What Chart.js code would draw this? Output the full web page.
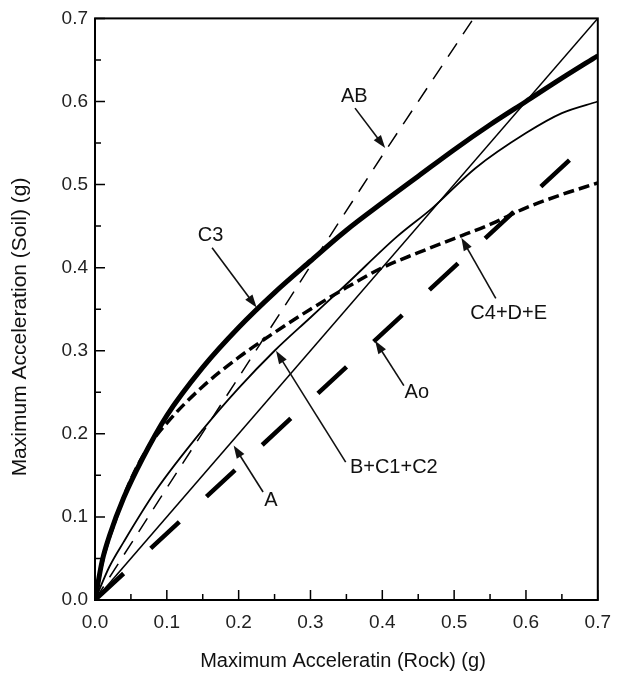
<!DOCTYPE html>
<html>
<head>
<meta charset="utf-8">
<script src="https://cdn.jsdelivr.net/npm/chart.js@4.4.1/dist/chart.umd.min.js"></script>
<style>
  html, body { margin: 0; padding: 0; background: #fff; }
  #wrap { width: 622px; height: 677px; position: relative; }
</style>
</head>
<body>
<div id="wrap"><canvas id="accChart"></canvas></div>
<script>
// values (rock acceleration -> soil acceleration, in g)
const rockA = [0, 0.7];
const soilA = [0, 0.7];

const rockAo = [0, 0.665];
const soilAo = [0, 0.533];

const rockAB = [0, 0.1, 0.2, 0.3, 0.4, 0.527];
const soilAB = [0, 0.135, 0.268, 0.402, 0.535, 0.7];

const rockBC = [0, 0.02, 0.04, 0.085, 0.15, 0.2, 0.25, 0.3, 0.35, 0.42, 0.47, 0.53, 0.6, 0.65, 0.7];
const soilBC = [0, 0.04, 0.07, 0.132, 0.205, 0.255, 0.3, 0.34, 0.38, 0.437, 0.472, 0.52, 0.562, 0.586, 0.6];

const rockC3 = [0, 0.01, 0.02, 0.04, 0.066, 0.1, 0.15, 0.2, 0.25, 0.3, 0.35, 0.4, 0.45, 0.5, 0.55, 0.6, 0.65, 0.7];
const soilC3 = [0, 0.047, 0.077, 0.123, 0.17, 0.222, 0.28, 0.328, 0.37, 0.408, 0.445, 0.478, 0.51, 0.542, 0.572, 0.6, 0.628, 0.655];

const rockC4 = [0, 0.01, 0.03, 0.05, 0.075, 0.1, 0.15, 0.2, 0.25, 0.3, 0.35, 0.4, 0.45, 0.5, 0.55, 0.6, 0.65, 0.7];
const soilC4 = [0, 0.045, 0.1, 0.145, 0.185, 0.213, 0.257, 0.292, 0.322, 0.35, 0.376, 0.4, 0.418, 0.435, 0.452, 0.472, 0.488, 0.502];

const tickValues = [0, 0.1, 0.2, 0.3, 0.4, 0.5, 0.6, 0.7];
const minorValues = [0.05, 0.15, 0.25, 0.35, 0.45, 0.55, 0.65];

const xTitle = 'Maximum Acceleratin (Rock) (g)';
const yTitle = 'Maximum Acceleration (Soil) (g)';

// label text, label position, arrow start, arrow tip (data units)
const notes = [
  { text: 'AB', at: [0.361, 0.606], from: [0.362, 0.592], to: [0.404, 0.544] },
  { text: 'C3', at: [0.161, 0.439], from: [0.163, 0.424], to: [0.225, 0.352] },
  { text: 'C4+D+E', at: [0.576, 0.345], from: [0.558, 0.363], to: [0.51, 0.436] },
  { text: 'Ao', at: [0.448, 0.25], from: [0.43, 0.258], to: [0.39, 0.312] },
  { text: 'B+C1+C2', at: [0.416, 0.16], from: [0.349, 0.166], to: [0.252, 0.30] },
  { text: 'A', at: [0.245, 0.12], from: [0.234, 0.13], to: [0.193, 0.186] }
];

function toPoints(xs, ys) {
  return xs.map((x, i) => ({ x: x, y: ys[i] }));
}

function series(label, xs, ys, width, dash, smooth) {
  return {
    label: label,
    data: toPoints(xs, ys),
    borderColor: '#000',
    borderWidth: width,
    borderDash: dash,
    borderCapStyle: 'butt',
    pointRadius: 0,
    showLine: true,
    fill: false,
    tension: smooth ? 0.4 : 0,
    cubicInterpolationMode: smooth ? 'monotone' : 'default'
  };
}

const frame = {
  id: 'frame',
  afterDatasetsDraw(chart) {
    const { ctx, chartArea: a, scales } = chart;
    ctx.save();
    ctx.strokeStyle = '#000';
    ctx.lineWidth = 2;
    ctx.strokeRect(a.left, a.top, a.right - a.left, a.bottom - a.top);
    ctx.lineWidth = 1.5;
    ctx.beginPath();
    tickValues.forEach(v => {
      const px = scales.x.getPixelForValue(v);
      const py = scales.y.getPixelForValue(v);
      ctx.moveTo(px, a.bottom); ctx.lineTo(px, a.bottom - 10);
      ctx.moveTo(a.left, py); ctx.lineTo(a.left + 10, py);
    });
    minorValues.forEach(v => {
      const px = scales.x.getPixelForValue(v);
      const py = scales.y.getPixelForValue(v);
      ctx.moveTo(px, a.bottom); ctx.lineTo(px, a.bottom - 6);
      ctx.moveTo(a.left, py); ctx.lineTo(a.left + 6, py);
    });
    ctx.stroke();
    ctx.restore();
  }
};

const labels = {
  id: 'labels',
  afterDraw(chart) {
    const { ctx, chartArea: a, scales } = chart;
    const X = v => scales.x.getPixelForValue(v);
    const Y = v => scales.y.getPixelForValue(v);
    ctx.save();
    ctx.fillStyle = '#111';
    ctx.strokeStyle = '#111';
    ctx.textAlign = 'center';
    ctx.textBaseline = 'middle';
    ctx.font = '20px "Liberation Sans", Arial, sans-serif';
    notes.forEach(n => {
      ctx.fillText(n.text, X(n.at[0]), Y(n.at[1]));
      const x0 = X(n.from[0]), y0 = Y(n.from[1]);
      const x1 = X(n.to[0]), y1 = Y(n.to[1]);
      const ang = Math.atan2(y1 - y0, x1 - x0);
      const head = 13, half = 4.5;
      ctx.lineWidth = 1.6;
      ctx.beginPath();
      ctx.moveTo(x0, y0);
      ctx.lineTo(x1 - head * 0.8 * Math.cos(ang), y1 - head * 0.8 * Math.sin(ang));
      ctx.stroke();
      ctx.beginPath();
      ctx.moveTo(x1, y1);
      ctx.lineTo(x1 - head * Math.cos(ang) + half * Math.sin(ang), y1 - head * Math.sin(ang) - half * Math.cos(ang));
      ctx.lineTo(x1 - head * Math.cos(ang) - half * Math.sin(ang), y1 - head * Math.sin(ang) + half * Math.cos(ang));
      ctx.closePath();
      ctx.fill();
    });

    // axis titles
    ctx.fillText(xTitle, 343, 661);
    ctx.translate(20, 327);
    ctx.rotate(-Math.PI / 2);
    ctx.font = '21px "Liberation Sans", Arial, sans-serif';
    ctx.fillText(yTitle, 0, 0);
    ctx.restore();
  }
};

new Chart(document.getElementById('accChart'), {
  type: 'scatter',
  data: {
    datasets: [
      series('A', rockA, soilA, 1.5, [], false),
      series('Ao', rockAo, soilAo, 4.5, [39, 37], false),
      series('AB', rockAB, soilAB, 1.5, [16, 11], false),
      series('B+C1+C2', rockBC, soilBC, 1.8, [], true),
      series('C3', rockC3, soilC3, 5, [], true),
      series('C4+D+E', rockC4, soilC4, 3.5, [11, 5], true)
    ]
  },
  options: {
    responsive: true,
    maintainAspectRatio: false,
    animation: false,
    layout: { padding: { top: 17, right: 19, left: 0, bottom: 0 } },
    plugins: {
      legend: { display: false },
      tooltip: { enabled: false }
    },
    scales: {
      x: {
        type: 'linear',
        min: 0,
        max: 0.7,
        afterFit: s => { s.height = 77; },
        afterBuildTicks: s => { s.ticks = tickValues.map(v => ({ value: v })); },
        grid: { display: false, drawTicks: false },
        border: { display: false },
        ticks: {
          padding: 11,
          color: '#222',
          font: { size: 19, family: '"Liberation Sans", Arial, sans-serif' },
          callback: v => v.toFixed(1),
          maxRotation: 0
        }
      },
      y: {
        type: 'linear',
        min: 0,
        max: 0.7,
        afterFit: s => { s.width = 95; },
        afterBuildTicks: s => { s.ticks = tickValues.map(v => ({ value: v })); },
        grid: { display: false, drawTicks: false },
        border: { display: false },
        ticks: {
          padding: 7,
          color: '#222',
          font: { size: 19, family: '"Liberation Sans", Arial, sans-serif' },
          callback: v => v.toFixed(1)
        }
      }
    }
  },
  plugins: [frame, labels]
});
</script>
</body>
</html>
